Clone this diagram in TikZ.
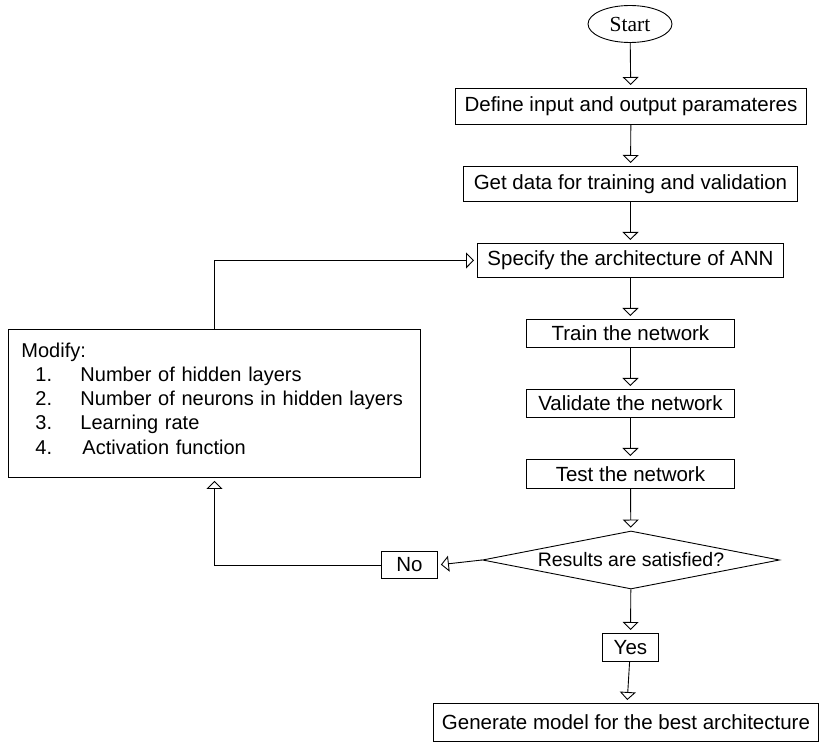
\documentclass[tikz,border=0pt]{standalone}
\usepackage{fontspec}
\setmainfont{Liberation Sans}
\newfontfamily\serifx{Liberation Serif}
\usetikzlibrary{arrows.meta,shapes.geometric}
\begin{document}
\begin{tikzpicture}[x=1pt,y=-1pt,
  every node/.style={font=\fontsize{20.5}{24}\selectfont, line width=0.9pt},
  boxx/.style={draw, rectangle, inner sep=0pt, anchor=north west},
  arr/.style={draw, line width=0.9pt, -{Triangle[open,width=16pt,length=8pt]}, shorten >=3pt}
]
\useasboundingbox (0,0) rectangle (820,743);
\node[draw, ellipse, minimum width=84pt, minimum height=37pt, inner sep=0pt, font=\serifx\fontsize{21.5}{24}\selectfont] (start) at (630,24) {Start};
\node[boxx, minimum width=351pt, minimum height=36pt] (define) at (455,88) {Define input and output paramateres};
\node[boxx, minimum width=334pt, minimum height=35pt] (data) at (463,166) {Get data for training and validation};
\node[boxx, minimum width=306pt, minimum height=34pt] (spec) at (477,243) {Specify the architecture of ANN};
\node[boxx, minimum width=208pt, minimum height=28pt] (train) at (526,319) {Train the network};
\node[boxx, minimum width=208pt, minimum height=28pt] (valid) at (526,389) {Validate the network};
\node[boxx, minimum width=208pt, minimum height=29pt] (test) at (526,459) {Test the network};
\node[draw, diamond, inner sep=0pt, aspect=5.1, minimum width=297pt, minimum height=58pt, font=\fontsize{19.5}{24}\selectfont] (dec) at (631,560) {Results are satisfied?};
\node[boxx, minimum width=56pt, minimum height=27pt] (no) at (381,551) {No};
\node[boxx, minimum width=56pt, minimum height=28pt] (yes) at (602,633) {Yes};
\node[boxx, minimum width=385pt, minimum height=38pt] (gen) at (433,703) {Generate model for the best architecture};
\node[boxx, minimum width=412pt, minimum height=148pt, align=left, text width=386pt, inner xsep=13pt, font=\fontsize{20}{24.3}\selectfont] (mod) at (8,329) {Modify:\\
\hspace*{14pt}\makebox[45pt][l]{1.}Number of hidden layers\\
\hspace*{14pt}\makebox[45pt][l]{2.}Number of neurons in hidden layers\\
\hspace*{14pt}\makebox[45pt][l]{3.}Learning rate\\
\hspace*{14pt}\makebox[47pt][l]{4.}Activation function\rule[-10pt]{0pt}{1pt}};
\draw[arr] (start) -- (define);
\draw[arr] (define) -- (data);
\draw[arr] (data) -- (spec);
\draw[arr] (spec) -- (train);
\draw[arr] (train) -- (valid);
\draw[arr] (valid) -- (test);
\draw[arr] (test) -- (dec);
\draw[arr] (dec) -- (yes);
\draw[arr] (yes) -- (gen);
\draw[arr] (dec.west) -- (no.east);
\draw[arr] (no.west) -| (mod.south);
\draw[arr] (mod.north) |- (spec.west);
\end{tikzpicture}
\end{document}
